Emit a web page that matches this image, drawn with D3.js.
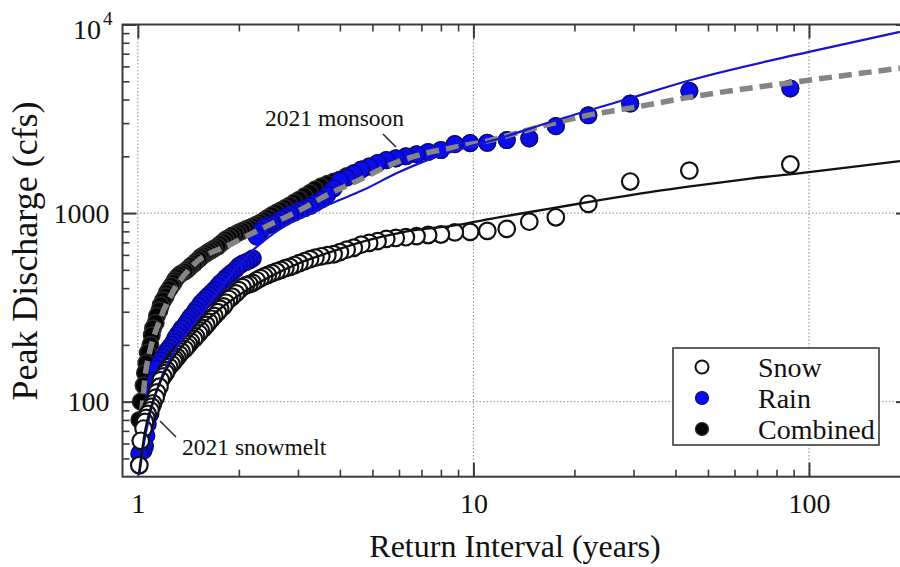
<!DOCTYPE html>
<html>
<head lang="en">
    <meta charset="UTF-8">
    <title>Peak discharge frequency</title>
    <script type="text/javascript" src="https://d3js.org/d3.v7.min.js"></script>
    <style type="text/css">
        body { margin: 0; background: #fff; }
        text { font-family: "Liberation Serif", "Times New Roman", serif; fill: #111; }
        .frame { fill: none; stroke: #3a3a3a; stroke-width: 2; }
        .grid { stroke: #8a8a8a; stroke-width: 1; stroke-dasharray: 1.5,2; }
        .axis path { display: none; }
        .axis .tick line { stroke: #3a3a3a; stroke-width: 2; }
        .minor .tick line { stroke-width: 1.6; }
        .axis text { font-size: 28px; fill: #111; }
    </style>
</head>
<body>
<script type="text/javascript">
    // plotting positions (years), rank 1..87
    var returnInterval = [88, 44, 29.33, 22, 17.6, 14.67, 12.57, 11, 9.78, 8.8,
        8, 7.33, 6.77, 6.29, 5.87, 5.5, 5.18, 4.89, 4.63, 4.4,
        4.19, 4, 3.83, 3.67, 3.52, 3.38, 3.26, 3.14, 3.03, 2.93,
        2.84, 2.75, 2.67, 2.59, 2.51, 2.44, 2.38, 2.32, 2.26, 2.2,
        2.15, 2.1, 2.05, 2, 1.96, 1.91, 1.87, 1.83, 1.8, 1.76,
        1.73, 1.69, 1.66, 1.63, 1.6, 1.57, 1.54, 1.52, 1.49, 1.47,
        1.44, 1.42, 1.4, 1.38, 1.35, 1.33, 1.31, 1.29, 1.28, 1.26,
        1.24, 1.22, 1.21, 1.19, 1.17, 1.16, 1.14, 1.13, 1.11, 1.1,
        1.09, 1.07, 1.06, 1.05, 1.04, 1.02, 1.01];

    var snowPeak = [1810, 1680, 1470, 1120, 950, 900, 825, 805, 795, 790,
        770, 765, 755, 745, 738, 730, 710, 695, 680, 655,
        640, 621, 605, 598, 590, 580, 570, 556, 543, 530,
        518, 510, 500, 490, 480, 470, 462, 452, 440, 426,
        420, 415, 405, 390, 375, 360, 350, 335, 320, 310,
        298, 285, 275, 265, 255, 245, 238, 230, 222, 215,
        208, 202, 196, 190, 184, 178, 172, 168, 163, 158,
        153, 147, 142, 136, 130, 120, 112, 105, 98, 94,
        90, 86, 82, 78, 72, 62, 46];

    var rainPeak = [4580, 4450, 3810, 3300, 2890, 2490, 2440, 2360, 2350, 2320,
        2160, 2110, 2050, 2000, 1950, 1910, 1840, 1760, 1700, 1620,
        1540, 1490, 1350, 1250, 1180, 1130, 1090, 1060, 1035, 1005,
        985, 955, 930, 900, 875, 860, 843, 800, 750, 575,
        560, 550, 540, 525, 505, 485, 470, 455, 440, 425,
        410, 392, 380, 368, 356, 344, 332, 320, 308, 296,
        284, 274, 264, 254, 244, 234, 225, 216, 208, 200,
        193, 186, 179, 172, 165, 158, 150, 130, 112, 97,
        86, 76, 66, 58, 55, 54, 53];

    var combinedPeak = [4580, 4450, 3810, 3300, 2890, 2490, 2440, 2360, 2350, 2320,
        2160, 2110, 2050, 2000, 1950, 1910, 1840, 1770, 1700, 1630,
        1570, 1505, 1470, 1430, 1385, 1335, 1280, 1230, 1180, 1140,
        1100, 1065, 1035, 1005, 975, 945, 915, 890, 870, 852,
        835, 822, 806, 790, 775, 760, 740, 725, 705, 685,
        665, 650, 637, 625, 612, 598, 585, 568, 553, 538,
        525, 510, 500, 490, 480, 470, 458, 442, 428, 412,
        395, 378, 362, 345, 325, 305, 285, 262, 245, 225,
        200, 182, 160, 142, 122, 100, 80];

    // fitted frequency curves
    var snowFitT = [1.009, 1.051, 1.104, 1.172, 1.258, 1.383, 1.533, 1.754, 2.087, 2.478, 3.04, 3.74,
        4.42, 5.27, 6.61, 8.52, 12.0, 16.9, 23.8, 33.6, 47.4, 66.9, 100, 186.6];
    var snowFitQ = [42, 70, 98, 130, 165, 205, 250, 310, 385, 460, 545, 620,
        685, 745, 810, 853, 952, 1056, 1172, 1292, 1407, 1523, 1649, 1886];

    var rainFitT = [1.009, 1.051, 1.101, 1.179, 1.291, 1.448, 1.662, 1.906, 2.16, 2.71, 3.42, 3.74,
        4.69, 5.92, 7.42, 8.52, 12.0, 16.9, 29.3, 44.2, 100, 186.6];
    var rainFitQ = [41, 65, 94, 136, 188, 249, 346, 479, 614, 843, 1033, 1116,
        1324, 1630, 1932, 2104, 2495, 3034, 4065, 5066, 7156, 9130];

    var combinedFitT = [1.004, 1.028, 1.051, 1.088, 1.152, 1.263, 1.448, 1.922, 2.423, 3.04, 3.81, 4.49,
        5.92, 7.42, 8.52, 10.95, 13.45, 16.9, 22.0, 29.3, 44.2, 100, 186.6];
    var combinedFitQ = [68, 90, 136, 188, 260, 375, 520, 693, 853, 1037, 1292, 1477,
        1863, 2104, 2209, 2407, 2653, 2963, 3306, 3602, 4118, 5066, 5863];

    var xMajor = [1, 10, 100];
    var xMinor = [2, 3, 4, 5, 6, 7, 8, 9, 20, 30, 40, 50, 60, 70, 80, 90];
    var yMajor = [100, 1000, 10000];
    var yMinor = [50, 60, 70, 80, 90, 200, 300, 400, 500, 600, 700, 800, 900,
        2000, 3000, 4000, 5000, 6000, 7000, 8000, 9000];

    var legendItems = ["Snow", "Rain", "Combined"];

    var W = 900, H = 567;
    var pLeft = 122.5, pRight = 910, pTop = 24.5, pBottom = 476.7;

    var x = d3.scaleLog().domain([0.9, 200]).range([pLeft, pRight]);
    var y = d3.scaleLog().domain([40, 10000]).range([pBottom, pTop]);

    var svg = d3.select("body").append("svg").attr("width", W).attr("height", H);

    svg.append("defs").append("clipPath").attr("id", "plotclip")
        .append("rect").attr("x", pLeft).attr("y", pTop)
        .attr("width", pRight - pLeft).attr("height", pBottom - pTop);

    // grid
    var grid = svg.append("g");
    grid.selectAll("line.gx").data(xMajor).enter().append("line")
        .attr("class", "grid")
        .attr("x1", function(d){ return x(d); }).attr("x2", function(d){ return x(d); })
        .attr("y1", pTop).attr("y2", pBottom);
    grid.selectAll("line.gy").data(yMajor.filter(function(d){ return d < 10000; })).enter().append("line")
        .attr("class", "grid")
        .attr("x1", pLeft).attr("x2", pRight)
        .attr("y1", function(d){ return y(d); }).attr("y2", function(d){ return y(d); });

    // axes: ticks point inward
    svg.append("g").attr("class", "axis").attr("transform", "translate(0," + pBottom + ")")
        .call(d3.axisBottom(x).tickValues(xMajor).tickSize(-14).tickPadding(16).tickFormat(d3.format("d")));
    svg.append("g").attr("class", "axis minor").attr("transform", "translate(0," + pBottom + ")")
        .call(d3.axisBottom(x).tickValues(xMinor).tickSize(-7).tickFormat(""));
    svg.append("g").attr("class", "axis").attr("transform", "translate(0," + pTop + ")")
        .call(d3.axisTop(x).tickValues(xMajor).tickSize(-14).tickFormat(""));
    svg.append("g").attr("class", "axis minor").attr("transform", "translate(0," + pTop + ")")
        .call(d3.axisTop(x).tickValues(xMinor).tickSize(-7).tickFormat(""));

    var yAxisG = svg.append("g").attr("class", "axis").attr("transform", "translate(" + pLeft + ",0)")
        .call(d3.axisLeft(y).tickValues(yMajor).tickSize(-14).tickPadding(13).tickFormat(d3.format("d")));
    svg.append("g").attr("class", "axis minor").attr("transform", "translate(" + pLeft + ",0)")
        .call(d3.axisLeft(y).tickValues(yMinor).tickSize(-7).tickFormat(""));
    svg.append("g").attr("class", "axis").attr("transform", "translate(" + pRight + ",0)")
        .call(d3.axisRight(y).tickValues(yMajor).tickSize(-14).tickFormat(""));
    svg.append("g").attr("class", "axis minor").attr("transform", "translate(" + pRight + ",0)")
        .call(d3.axisRight(y).tickValues(yMinor).tickSize(-7).tickFormat(""));

    // 10^4 label with superscript
    yAxisG.selectAll(".tick").filter(function(d){ return d === 10000; }).select("text")
        .each(function(){
            var t = d3.select(this);
            t.text("").attr("x", -10).attr("y", 14).attr("dy", null);
            t.append("tspan").text("10");
            t.append("tspan").attr("dx", 2).attr("dy", -14).attr("font-size", "19px").text("4");
        });

    svg.append("rect").attr("class", "frame")
        .attr("x", pLeft).attr("y", pTop).attr("width", pRight - pLeft).attr("height", pBottom - pTop);

    var plot = svg.append("g").attr("clip-path", "url(#plotclip)");
    var R = 8.3;

    function pts(vals) {
        return vals.map(function(v, i){ return {t: returnInterval[i], q: v}; });
    }
    function fit(ts, qs) {
        return ts.map(function(t, i){ return [x(t), y(qs[i])]; });
    }
    var line = d3.line().curve(d3.curveMonotoneX);

    plot.selectAll("circle.comb").data(pts(combinedPeak)).enter().append("circle")
        .attr("class", "comb")
        .attr("cx", function(d){ return x(d.t); }).attr("cy", function(d){ return y(d.q); })
        .attr("r", R).attr("fill", "#050505").attr("stroke", "#2a2a2a").attr("stroke-width", 1.5);

    plot.selectAll("circle.rain").data(pts(rainPeak)).enter().append("circle")
        .attr("class", "rain")
        .attr("cx", function(d){ return x(d.t); }).attr("cy", function(d){ return y(d.q); })
        .attr("r", R).attr("fill", "#0b0bf0").attr("stroke", "#0a0a80").attr("stroke-width", 1.5);

    plot.append("path").attr("d", line(fit(combinedFitT, combinedFitQ)))
        .attr("fill", "none").attr("stroke", "#858585").attr("stroke-width", 5.5)
        .attr("stroke-dasharray", "13,7");

    plot.selectAll("circle.snow").data(pts(snowPeak)).enter().append("circle")
        .attr("class", "snow")
        .attr("cx", function(d){ return x(d.t); }).attr("cy", function(d){ return y(d.q); })
        .attr("r", R).attr("fill", "#fff").attr("stroke", "#111").attr("stroke-width", 2.2);

    plot.append("path").attr("d", line(fit(rainFitT, rainFitQ)))
        .attr("fill", "none").attr("stroke", "#1414d2").attr("stroke-width", 2.2);

    plot.append("path").attr("d", line(fit(snowFitT, snowFitQ)))
        .attr("fill", "none").attr("stroke", "#111").attr("stroke-width", 2.4);

    // annotations
    svg.append("text").attr("x", 265).attr("y", 126).style("font-size", "23.5px").text("2021 monsoon");
    svg.append("line").attr("x1", 383).attr("y1", 134).attr("x2", 396).attr("y2", 147)
        .attr("stroke", "#222").attr("stroke-width", 1.5);
    svg.append("text").attr("x", 182).attr("y", 455).style("font-size", "23.5px").text("2021 snowmelt");
    svg.append("line").attr("x1", 160).attr("y1", 421).attr("x2", 176).attr("y2", 437)
        .attr("stroke", "#222").attr("stroke-width", 1.5);

    // legend
    var lg = svg.append("g");
    lg.append("rect").attr("x", 673).attr("y", 348).attr("width", 206).attr("height", 97)
        .attr("fill", "#fff").attr("stroke", "#3a3a3a").attr("stroke-width", 1.6);
    var lfill = ["#fff", "#0b0bf0", "#050505"];
    var lstroke = ["#111", "#0a0a80", "#2a2a2a"];
    var ly = d3.scalePoint().domain(legendItems).range([367, 429]);
    lg.selectAll("circle").data(legendItems).enter().append("circle")
        .attr("cx", 702).attr("cy", function(d){ return ly(d); }).attr("r", 6.5)
        .attr("fill", function(d, i){ return lfill[i]; })
        .attr("stroke", function(d, i){ return lstroke[i]; })
        .attr("stroke-width", function(d, i){ return i === 0 ? 2 : 1.2; });
    lg.selectAll("text").data(legendItems).enter().append("text")
        .attr("x", 758).attr("y", function(d){ return ly(d) + 9.5; })
        .style("font-size", "28px").text(function(d){ return d; });

    // axis titles
    svg.append("text").attr("x", 515).attr("y", 557).attr("text-anchor", "middle")
        .style("font-size", "32px").text("Return Interval (years)");
    svg.append("text").attr("transform", "translate(37,251) rotate(-90)").attr("text-anchor", "middle")
        .style("font-size", "36px").text("Peak Discharge (cfs)");
</script>
</body>
</html>
